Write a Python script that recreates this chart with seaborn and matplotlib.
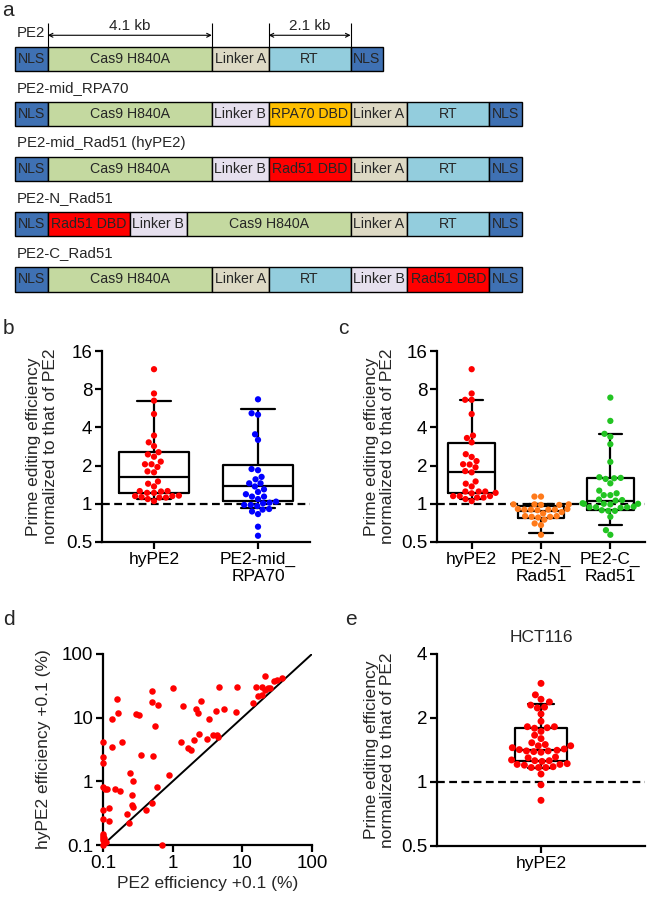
import numpy as np
import pandas as pd
import matplotlib
matplotlib.use("Agg")
import matplotlib.pyplot as plt
from matplotlib.ticker import NullLocator
import seaborn as sns

sns.set_theme(style="ticks")
plt.rcParams["font.family"] = ["Liberation Sans", "DejaVu Sans"]

# panel a: construct maps (segment lengths in kb-like units)
construct_names = ["PE2", "PE2-mid_RPA70", "PE2-mid_Rad51 (hyPE2)", "PE2-N_Rad51", "PE2-C_Rad51"]
construct_parts = [
    ["NLS", "Cas9 H840A", "Linker A", "RT", "NLS"],
    ["NLS", "Cas9 H840A", "Linker B", "RPA70 DBD", "Linker A", "RT", "NLS"],
    ["NLS", "Cas9 H840A", "Linker B", "Rad51 DBD", "Linker A", "RT", "NLS"],
    ["NLS", "Rad51 DBD", "Linker B", "Cas9 H840A", "Linker A", "RT", "NLS"],
    ["NLS", "Cas9 H840A", "Linker A", "RT", "Linker B", "Rad51 DBD", "NLS"],
]
part_kb = {"NLS": 0.82, "Cas9 H840A": 4.1, "Linker A": 1.42, "Linker B": 1.42,
           "RT": 2.05, "RPA70 DBD": 2.05, "Rad51 DBD": 2.05}
part_colors = {"NLS": "#3f71b3", "Cas9 H840A": "#c4d9a0", "Linker A": "#ddd9c4",
               "Linker B": "#e6e0ee", "RT": "#93cddd", "RPA70 DBD": "#ffc000",
               "Rad51 DBD": "#ff0000"}

# panel b
b_groups = ["hyPE2", "PE2-mid_\nRPA70"]
b_hype2 = [11.5, 7.4, 6.5, 5.1, 3.45, 3.05, 2.85, 2.55, 2.45, 2.35,
           2.15, 2.05, 2.05, 1.95, 1.8, 1.77, 1.5, 1.44, 1.37, 1.26,
           1.26, 1.25, 1.22, 1.22, 1.15, 1.13, 1.12, 1.12, 1.15, 1.16,
           1.09, 1.05]
b_rpa70 = [6.66, 5.17, 5.04, 3.53, 3.19, 1.88, 1.84, 1.63, 1.56, 1.45,
           1.45, 1.37, 1.3, 1.24, 1.19, 1.14, 1.14, 1.09, 1.04, 1.02,
           1.01, 0.98, 0.98, 0.96, 0.91, 0.9, 0.87, 0.83, 0.66, 0.56]
b_q1 = [1.22, 1.06]
b_med = [1.62, 1.37]
b_q3 = [2.55, 2.03]
b_lo = [1.1, 0.92]
b_hi = [6.4, 5.58]

# panel c
c_groups = ["hyPE2", "PE2-N_\nRad51", "PE2-C_\nRad51"]
c_hype2 = [11.5, 7.4, 6.6, 6.6, 5.1, 3.45, 3.3, 3.05, 2.46, 2.34,
           2.17, 2.04, 2.05, 1.94, 1.81, 1.77, 1.5, 1.44, 1.37, 1.25,
           1.25, 1.21, 1.22, 1.25, 1.15, 1.12, 1.12, 1.15, 1.15, 1.09,
           1.05]
c_n_rad51 = [1.14, 1.14, 0.99, 0.99, 0.98, 0.99, 0.98, 0.91, 0.9, 0.9,
             0.91, 0.9, 0.89, 0.9, 0.86, 0.84, 0.8, 0.79, 0.8, 0.78,
             0.79, 0.75, 0.68, 0.7, 0.57]
c_c_rad51 = [6.87, 4.5, 3.56, 3.38, 2.95, 2.14, 1.62, 1.6, 1.59, 1.57,
             1.45, 1.27, 1.21, 1.17, 1.17, 1.08, 1.07, 1.06, 1.0, 1.0,
             0.99, 1.01, 1.0, 0.94, 0.94, 0.93, 0.94, 0.95, 0.88, 0.88,
             0.89, 0.79, 0.62, 0.57]
c_q1 = [1.21, 0.77, 0.9]
c_med = [1.79, 0.87, 1.05]
c_q3 = [2.99, 0.96, 1.6]
c_lo = [1.1, 0.59, 0.68]
c_hi = [6.6, 0.99, 3.53]

# panel d: PE2 vs hyPE2 efficiency (+0.1 %)
d_pe2 = [0.1, 0.1, 0.1, 0.1, 0.107, 0.115, 0.1, 0.1, 0.1, 0.1,
         0.1, 0.1, 0.105, 0.11, 0.1, 0.123, 0.123, 0.135, 0.135, 0.157,
         0.165, 0.148, 0.175, 0.19, 0.22, 0.236, 0.244, 0.257, 0.27, 0.257,
         0.267, 0.3, 0.33, 0.35, 0.42, 0.51, 0.51, 0.51, 0.53, 0.55,
         0.62, 0.6, 0.71, 0.9, 1.0, 1.3, 1.42, 1.68, 1.81, 2.04,
         2.14, 2.33, 2.51, 2.39, 3.07, 3.36, 3.84, 4.27, 4.19, 4.43,
         4.68, 5.52, 8.2, 8.48, 14.0, 15.7, 19.4, 17.0, 19.4, 21.0,
         23.0, 21.0, 25.0, 28.5, 31.0, 37.5]
d_hype2 = [4.1, 2.4, 1.96, 0.82, 0.76, 0.76, 0.35, 0.26, 0.15, 0.14,
           0.13, 0.12, 0.13, 0.11, 0.1, 0.38, 0.24, 3.5, 9.4, 19.9,
           12.0, 0.76, 0.71, 4.2, 0.31, 0.224, 1.34, 0.43, 0.39, 0.6,
           1.0, 11.4, 11.0, 2.6, 0.355, 0.46, 26.0, 17.9, 2.5, 7.5,
           15.8, 0.82, 0.1, 1.26, 29.6, 4.15, 15.5, 3.3, 3.1, 4.47,
           13.7, 11.7, 18.0, 5.47, 4.6, 9.6, 5.35, 5.35, 12.7, 4.9,
           30.7, 13.7, 12.3, 30.2, 16.8, 30.2, 30.2, 22.0, 22.7, 27.0,
           28.9, 45.0, 29.5, 38.0, 39.0, 42.7]

# panel e: HCT116
e_groups = ["hyPE2"]
e_hype2 = [2.91, 2.57, 2.45, 2.38, 2.3, 2.25, 2.23, 2.09, 1.93, 1.82,
           1.8, 1.82, 1.79, 1.73, 1.66, 1.53, 1.6, 1.48, 1.48, 1.45,
           1.43, 1.5, 1.42, 1.4, 1.39, 1.4, 1.38, 1.41, 1.31, 1.26,
           1.27, 1.25, 1.26, 1.3, 1.22, 1.21, 1.21, 1.2, 1.17, 1.17,
           1.17, 1.18, 1.09, 0.97, 0.82]
e_q1 = [1.25]
e_med = [1.41]
e_q3 = [1.8]
e_lo = [1.16]
e_hi = [2.33]

W, H = 666, 898
fig = plt.figure(figsize=(W / 100, H / 100), dpi=100)


def rect(l, t, r, b):
    return [l / W, 1 - b / H, (r - l) / W, (b - t) / H]


def style_axes(ax, xsize=12.5, ysize=13.5):
    sns.despine(ax=ax)
    for s in ["left", "bottom"]:
        ax.spines[s].set_linewidth(1.6)
        ax.spines[s].set_color("black")
    ax.tick_params(width=1.6, length=5, color="black", labelcolor="black", pad=2)
    ax.tick_params(axis="x", labelsize=xsize)
    ax.tick_params(axis="y", labelsize=ysize)


def log2_axis(ax, lo, hi, ticks):
    ax.set_yscale("log", base=2)
    ax.set_ylim(lo, hi)
    ax.set_yticks(ticks)
    ax.set_yticklabels([f"{t:g}" for t in ticks])
    ax.yaxis.set_minor_locator(NullLocator())


def draw_boxes(ax, q1, med, q3, lo, hi, width):
    stats = [dict(q1=a, med=m, q3=c, whislo=l, whishi=h)
             for a, m, c, l, h in zip(q1, med, q3, lo, hi)]
    lp = dict(color="black", linewidth=1.6)
    ax.bxp(stats, positions=range(len(stats)), widths=width, showfliers=False,
           manage_ticks=False, boxprops=lp, medianprops=lp,
           whiskerprops=lp, capprops=lp)


def swarm(ax, groups, values, colors, size=4.5):
    df = pd.DataFrame({
        "group": np.repeat(groups, [len(v) for v in values]),
        "value": np.concatenate(values),
    })
    sns.swarmplot(data=df, x="group", y="value", hue="group", order=groups,
                  hue_order=groups, palette=colors, size=size, linewidth=0,
                  legend=False, zorder=3, ax=ax)
    ax.set_xlabel("")


ylab = "Prime editing efficiency\nnormalized to that of PE2"

# ---------------- a
ax = fig.add_axes(rect(0, 0, W, 300))
ax.axis("off")
ax.set_xlim(-0.375, 16.275)
ax.set_ylim(4.374, -1.07)
for row, (name, parts) in enumerate(zip(construct_names, construct_parts)):
    lengths = [part_kb[p] for p in parts]
    lefts = np.concatenate([[0], np.cumsum(lengths)[:-1]])
    ax.barh(row, lengths, left=lefts, height=0.44,
            color=[part_colors[p] for p in parts], edgecolor="black", linewidth=1.0)
    for p, l, w in zip(parts, lefts, lengths):
        ax.text(l + w / 2, row, p, ha="center", va="center", fontsize=10.2)
    ax.text(0.05, row - 0.48, name, ha="left", va="center", fontsize=10.8)

pe2_edges = np.concatenate([[0], np.cumsum([part_kb[p] for p in construct_parts[0]])])
for x0, x1, lab in [(pe2_edges[1], pe2_edges[2], "4.1 kb"), (pe2_edges[3], pe2_edges[4], "2.1 kb")]:
    ax.vlines([x0, x1], -0.65, -0.22, color="black", linewidth=0.8)
    ax.annotate("", xy=(x0, -0.43), xytext=(x1, -0.43),
                arrowprops=dict(arrowstyle="<->", lw=0.8, color="black",
                                shrinkA=0, shrinkB=0, mutation_scale=7))
    ax.text((x0 + x1) / 2, -0.48, lab, ha="center", va="bottom", fontsize=11)

# ---------------- b
ax = fig.add_axes(rect(102, 351, 310, 542))
log2_axis(ax, 0.5, 16, [0.5, 1, 2, 4, 8, 16])
swarm(ax, b_groups, [b_hype2, b_rpa70], ["#ff0000", "#0000ff"])
ax.set_xlim(-0.5, 1.5)
draw_boxes(ax, b_q1, b_med, b_q3, b_lo, b_hi, 0.67)
ax.axhline(1, color="black", linewidth=1.6, linestyle=(0, (3.5, 2)), zorder=1)
ax.set_ylabel(ylab, fontsize=12.5, linespacing=1.1, labelpad=6)
style_axes(ax)

# ---------------- c
ax = fig.add_axes(rect(437, 351, 645, 542))
log2_axis(ax, 0.5, 16, [0.5, 1, 2, 4, 8, 16])
swarm(ax, c_groups, [c_hype2, c_n_rad51, c_c_rad51], ["#ff0000", "#ff7a1a", "#22c422"])
ax.set_xlim(-0.5, 2.5)
draw_boxes(ax, c_q1, c_med, c_q3, c_lo, c_hi, 0.67)
ax.axhline(1, color="black", linewidth=1.6, linestyle=(0, (3.5, 2)), zorder=1)
ax.set_ylabel(ylab, fontsize=12.5, linespacing=1.1, labelpad=4)
style_axes(ax)

# ---------------- d
ax = fig.add_axes(rect(103, 654, 312, 845))
ax.set_xscale("log")
ax.set_yscale("log")
ax.set_xlim(0.1, 100)
ax.set_ylim(0.1, 100)
sns.scatterplot(x=d_pe2, y=d_hype2, color="#ff0000", s=22, linewidth=0,
                clip_on=False, zorder=3, ax=ax)
ax.axline((0.1, 0.1), (100, 100), color="black", linewidth=1.4, zorder=2)
dticks = [0.1, 1, 10, 100]
ax.set_xticks(dticks)
ax.set_xticklabels([f"{t:g}" for t in dticks])
ax.set_yticks(dticks)
ax.set_yticklabels([f"{t:g}" for t in dticks])
ax.xaxis.set_minor_locator(NullLocator())
ax.yaxis.set_minor_locator(NullLocator())
ax.set_xlabel("PE2 efficiency +0.1 (%)", fontsize=12.5, labelpad=3)
ax.set_ylabel("hyPE2 efficiency +0.1 (%)", fontsize=12.5, labelpad=8)
style_axes(ax, xsize=13.5, ysize=13.5)

# ---------------- e
ax = fig.add_axes(rect(437, 654, 645, 846))
log2_axis(ax, 0.5, 4, [0.5, 1, 2, 4])
swarm(ax, e_groups, [e_hype2], ["#ff0000"], size=5)
ax.set_xlim(-1, 1)
draw_boxes(ax, e_q1, e_med, e_q3, e_lo, e_hi, 0.5)
ax.axhline(1, color="black", linewidth=1.6, linestyle=(0, (3.5, 2)), zorder=1)
ax.set_ylabel(ylab, fontsize=12.5, linespacing=1.1)
ax.set_title("HCT116", fontsize=12.5, pad=9)
style_axes(ax)

# panel letters
fig.text(2 / W, 1 - 1 / H, "a", fontsize=15, va="top", ha="left")
for lab, x, y in [("b", 3, 334), ("c", 338, 334), ("d", 3, 625), ("e", 345, 625)]:
    fig.text(x / W, 1 - y / H, lab, fontsize=15, va="baseline", ha="left")

fig.savefig("out.png", dpi=100)
